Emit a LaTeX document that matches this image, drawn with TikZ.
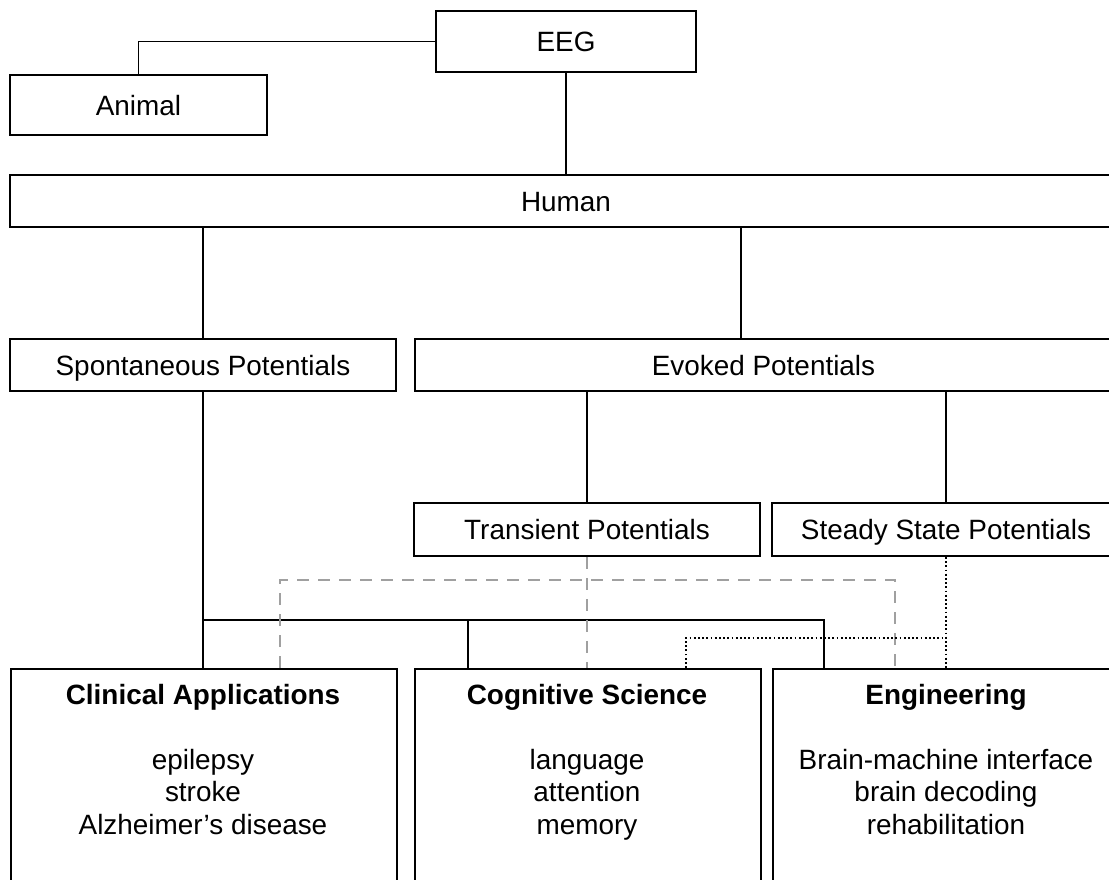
\documentclass[tikz,border=0pt]{standalone}
\usepackage{fontspec}
\setmainfont{Liberation Sans}
\newcommand\dfont{\fontsize{27.9pt}{32.5pt}\selectfont}
\definecolor{dashgray}{RGB}{160,160,160}
\tikzset{
  box/.style={draw=black, line width=1.8pt, rectangle, inner sep=0pt, font=\dfont,
    text height=20pt, text depth=0pt},
  bigbox/.style={draw=black, line width=1.8pt, rectangle, inner sep=0pt, anchor=north west},
  btext/.style={anchor=north, inner sep=0pt, align=center, font=\dfont},
  link/.style={draw=black, line width=1.8pt},
  dlink/.style={draw=dashgray, line width=1.8pt, dash pattern=on 12pt off 9pt},
  olink/.style={draw=black, line width=1.8pt, dash pattern=on 1.8pt off 2.4pt},
}
\begin{document}
\begin{tikzpicture}[x=1pt, y=-1pt]
\useasboundingbox (0,0) rectangle (1109,879);
\clip (0,0) rectangle (1109,879);

% boxes
\node[box, minimum width=260pt, minimum height=61pt] (eeg) at (566,41.5) {EEG};
\node[box, minimum width=257pt, minimum height=60pt] (animal) at (138.5,105) {Animal};
\node[box, minimum width=1112pt, minimum height=52pt] (human) at (566,201) {Human};
\node[box, minimum width=386pt, minimum height=52pt] (spont) at (203,365) {Spontaneous Potentials};
\node[box, minimum width=697pt, minimum height=52pt] (evoked) at (763.5,365) {Evoked Potentials};
\node[box, minimum width=346pt, minimum height=53pt] (trans) at (587,529.5) {Transient Potentials};
\node[box, minimum width=348pt, minimum height=53pt] (steady) at (946,529.5) {Steady State Potentials};

\node[bigbox, minimum width=386pt, minimum height=240pt] (clin) at (10,668) {};
\node[bigbox, minimum width=346pt, minimum height=240pt] (cog) at (414,668) {};
\node[bigbox, minimum width=348pt, minimum height=240pt] (eng) at (772,668) {};

\node[btext] (clintxt) at (203,684) {\textbf{Clinical Applications}\\[32.5pt]epilepsy\\stroke\\Alzheimer’s disease};
\node[btext] (cogtxt) at (587,684) {\textbf{Cognitive Science}\\[32.5pt]language\\attention\\memory};
\node[btext] (engtxt) at (946,684) {\textbf{Engineering}\\[32.5pt]Brain-machine interface\\brain decoding\\rehabilitation};

% helper coordinates
\coordinate (ev1) at (741,339);
\coordinate (bus) at (0,620);
\coordinate (cogTap) at (468,668);
\coordinate (engTap) at (824,668);
\coordinate (clinTapD) at (280,668);
\coordinate (engTapD) at (895,668);
\coordinate (cogTapDot) at (686,668);
\coordinate (dotJ) at (946,638);

% solid connectors
\draw[link] (eeg.west) -| (animal.north);
\draw[link] (eeg.south) -- (eeg.south |- human.north);
\draw[link] (spont.north) -- (spont.north |- human.south);
\draw[link] (ev1) -- (ev1 |- human.south);
\draw[link] (trans.north) -- (trans.north |- evoked.south);
\draw[link] (steady.north) -- (steady.north |- evoked.south);
\draw[link] (spont.south) -- (spont.south |- clin.north);
\draw[link] (spont.south |- bus) -| (engTap);
\draw[link] (cogTap) -- (cogTap |- bus);

% dashed gray connectors
\draw[dlink] (clinTapD) -- ++(0,-88) -| (engTapD);
\draw[dlink] (trans.south) -- (trans.south |- cog.north);

% dotted connectors
\draw[olink] (steady.south) -- (steady.south |- eng.north);
\draw[olink] (cogTapDot) |- (dotJ);
\end{tikzpicture}
\end{document}
